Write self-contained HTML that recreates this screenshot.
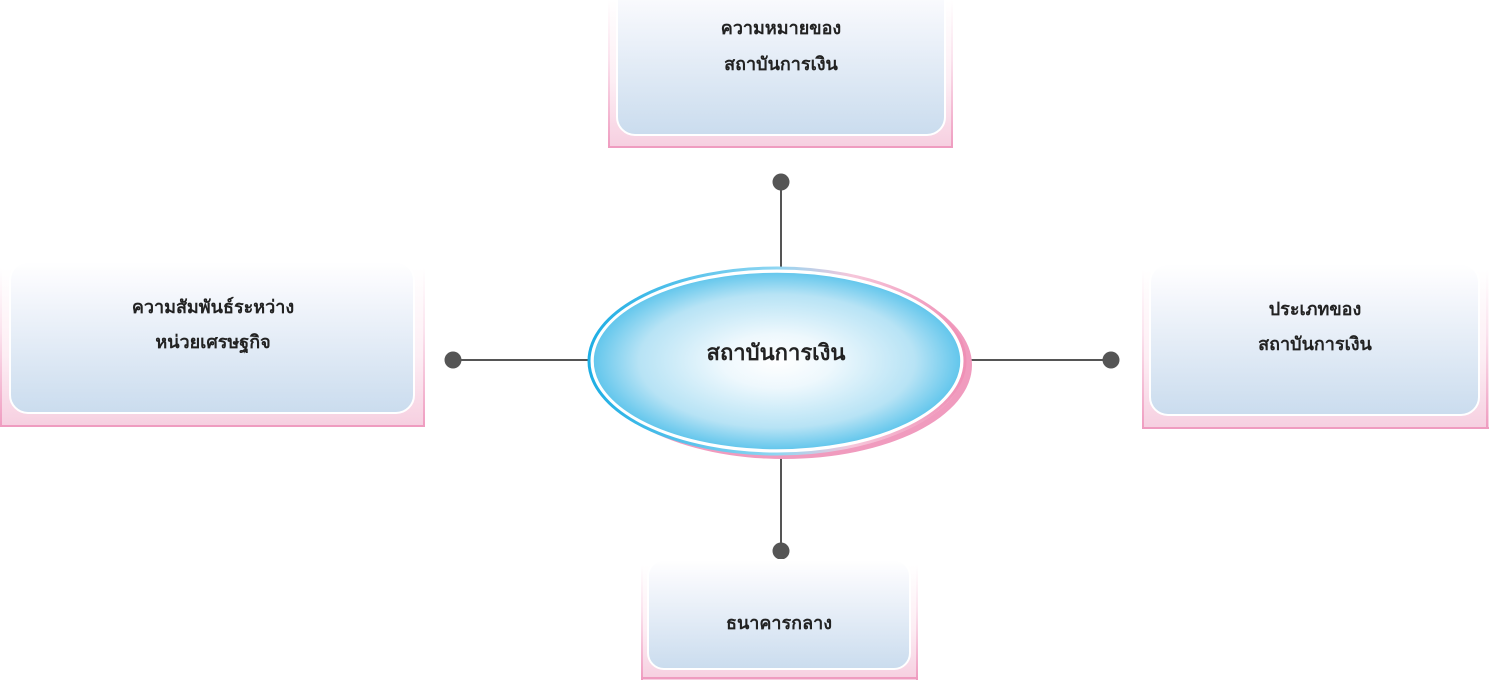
<!DOCTYPE html>
<html><head><meta charset="utf-8"><style>
html,body{margin:0;padding:0;background:#fff;width:1489px;height:680px;overflow:hidden}
text{font-family:"Liberation Sans","Noto Sans CJK SC","WenQuanYi Zen Hei",sans-serif;font-weight:bold;fill:#222}
</style></head><body>
<svg width="1489" height="680" viewBox="0 0 1489 680" xmlns="http://www.w3.org/2000/svg">
<defs>
<linearGradient id="outer" x1="0" y1="0" x2="0" y2="1">
<stop offset="0" stop-color="#fff"/><stop offset="0.55" stop-color="#fdeef4"/><stop offset="1" stop-color="#f6cfe0"/></linearGradient>
<linearGradient id="side" x1="0" y1="0" x2="0" y2="1">
<stop offset="0" stop-color="#fff"/><stop offset="0.4" stop-color="#fbe3ee"/><stop offset="1" stop-color="#ef9cc0"/></linearGradient>
<linearGradient id="inner" x1="0" y1="0" x2="0" y2="1">
<stop offset="0" stop-color="#ffffff"/><stop offset="0.15" stop-color="#f8f9fd"/><stop offset="1" stop-color="#cadcee"/></linearGradient>
<radialGradient id="ell" cx="0.5" cy="0.5" r="0.5">
<stop offset="0" stop-color="#ffffff"/><stop offset="0.3" stop-color="#eef8fd"/><stop offset="0.75" stop-color="#b7e3f5"/><stop offset="1" stop-color="#62c6ec"/></radialGradient>
<linearGradient id="ring" x1="0" y1="0" x2="1" y2="0">
<stop offset="0" stop-color="#1eaee4"/><stop offset="0.5" stop-color="#8fd6f2"/><stop offset="0.7" stop-color="#f6c6da"/><stop offset="1" stop-color="#ef8fb5"/></linearGradient>
</defs>
<g stroke="#555" stroke-width="2">
<line x1="781" y1="182" x2="781" y2="272"/>
<line x1="781" y1="456" x2="781" y2="551"/>
<line x1="453" y1="360" x2="592" y2="360"/>
<line x1="968" y1="360" x2="1111" y2="360"/>
</g>
<g fill="#555">
<circle cx="781" cy="182" r="8.5"/><circle cx="781" cy="551" r="8.5"/>
<circle cx="453" cy="360" r="8.5"/><circle cx="1111" cy="360" r="8.5"/>
</g>
<ellipse cx="784" cy="365" rx="188" ry="94" fill="#f09bbe"/>
<ellipse cx="778" cy="362" rx="188" ry="93" fill="#fff"/>
<ellipse cx="777" cy="361" rx="188" ry="93" fill="none" stroke="url(#ring)" stroke-width="3"/>
<ellipse cx="777" cy="361" rx="184" ry="89" fill="url(#ell)" stroke="#fff" stroke-width="1.5"/>
<text x="776" y="360" font-size="22" text-anchor="middle">สถาบันการเงิน</text>

<!-- top box -->
<rect x="608" y="0" width="345" height="148" fill="url(#outer)"/>
<rect x="608" y="0" width="2" height="148" fill="url(#side)"/><rect x="951" y="0" width="2" height="148" fill="url(#side)"/>
<rect x="608" y="146" width="345" height="2" fill="#ef9cc0"/>
<rect x="617" y="-20" width="328" height="155" rx="18" fill="url(#inner)" stroke="#fff" stroke-width="2"/>
<text x="781" y="34" font-size="18" text-anchor="middle">ความหมายของ</text>
<text x="781" y="70" font-size="18" text-anchor="middle">สถาบันการเงิน</text>

<!-- left box -->
<rect x="0" y="268" width="425" height="159" fill="url(#outer)"/>
<rect x="0" y="268" width="2" height="159" fill="url(#side)"/><rect x="423" y="268" width="2" height="159" fill="url(#side)"/>
<rect x="0" y="425" width="425" height="2" fill="#ef9cc0"/>
<rect x="10" y="262" width="404" height="151" rx="18" fill="url(#inner)" stroke="#fff" stroke-width="2"/>
<text x="213" y="313" font-size="18" text-anchor="middle">ความสัมพันธ์ระหว่าง</text>
<text x="213" y="348" font-size="18" text-anchor="middle">หน่วยเศรษฐกิจ</text>

<!-- right box -->
<rect x="1142" y="270" width="347" height="159" fill="url(#outer)"/>
<rect x="1142" y="270" width="2" height="159" fill="url(#side)"/><rect x="1486" y="270" width="2" height="159" fill="url(#side)"/>
<rect x="1142" y="427" width="347" height="2" fill="#ef9cc0"/>
<rect x="1150" y="264" width="329" height="151" rx="18" fill="url(#inner)" stroke="#fff" stroke-width="2"/>
<text x="1315" y="315" font-size="18" text-anchor="middle">ประเภทของ</text>
<text x="1315" y="350" font-size="18" text-anchor="middle">สถาบันการเงิน</text>

<!-- bottom box -->
<rect x="641" y="565" width="277" height="115" fill="url(#outer)"/>
<rect x="641" y="565" width="2" height="115" fill="url(#side)"/><rect x="916" y="565" width="2" height="115" fill="url(#side)"/>
<rect x="641" y="677" width="277" height="2" fill="#ef9cc0"/>
<rect x="648" y="560" width="262" height="109" rx="16" fill="url(#inner)" stroke="#fff" stroke-width="2"/>
<text x="779" y="629" font-size="18" text-anchor="middle">ธนาคารกลาง</text>
</svg>
</body></html>
